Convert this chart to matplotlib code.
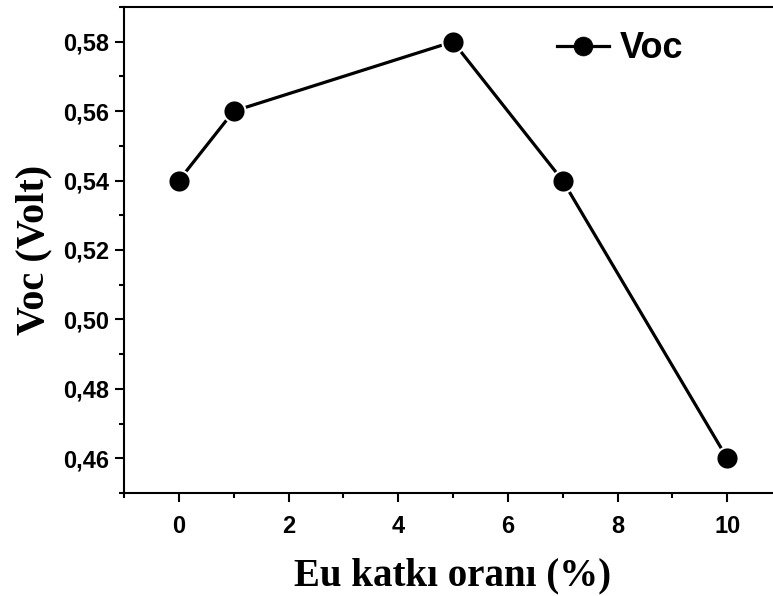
import matplotlib
matplotlib.use("Agg")
import matplotlib.pyplot as plt
from matplotlib.ticker import MultipleLocator, FuncFormatter

eu_ratio = [0, 1, 5, 7, 10]
voc_values = [0.54, 0.56, 0.58, 0.54, 0.46]
series_label = "Voc"
x_label = "Eu katkı oranı (%)"
y_label = "Voc (Volt)"

fig = plt.figure(figsize=(7.73, 5.96), dpi=100)
W, H = 773, 596
left, right, top, bottom = 124, 782, 7, 493
ax = fig.add_axes([left / W, 1 - bottom / H, (right - left) / W, (bottom - top) / H])

ax.plot(eu_ratio, voc_values, color="black", lw=2.3, marker="o", ms=16,
        markerfacecolor="black", markeredgecolor="white", markeredgewidth=1.5,
        label=series_label)

ax.set_xlim(-1, 11)
ax.set_ylim(0.45, 0.59)
ax.xaxis.set_major_locator(MultipleLocator(2))
ax.xaxis.set_minor_locator(MultipleLocator(1))
ax.yaxis.set_major_locator(MultipleLocator(0.02))
ax.yaxis.set_minor_locator(MultipleLocator(0.01))
ax.yaxis.set_major_formatter(FuncFormatter(lambda v, p: f"{v:.2f}".replace(".", ",")))

for s in ax.spines.values():
    s.set_linewidth(1.5)
ax.tick_params(which="major", direction="out", length=6.5, width=1.5)
ax.tick_params(which="minor", direction="out", length=3.5, width=1.5)
ax.tick_params(axis="y", which="major", pad=4)
ax.tick_params(axis="x", which="major", pad=9)
for lab in ax.get_xticklabels() + ax.get_yticklabels():
    lab.set_fontfamily("Liberation Sans")
    lab.set_fontweight("bold")
    lab.set_fontsize(17)

ax.set_xlabel(x_label, fontfamily="Liberation Serif", fontweight="bold", fontsize=28, labelpad=14)
ax.set_ylabel(y_label, fontfamily="Liberation Serif", fontweight="bold", fontsize=29, labelpad=8)

leg = ax.legend(loc="center left", bbox_to_anchor=((557 - left) / (right - left), (bottom - 49) / (bottom - top)),
                frameon=False, borderpad=0, borderaxespad=0, handlelength=1.45, handletextpad=0.3,
                markerscale=0.85, prop={"family": "Liberation Sans", "weight": "bold", "size": 26})
for h in leg.legend_handles:
    h.set_markeredgecolor("black")
    h.set_markeredgewidth(0.5)

fig.savefig("out.png", dpi=100)
